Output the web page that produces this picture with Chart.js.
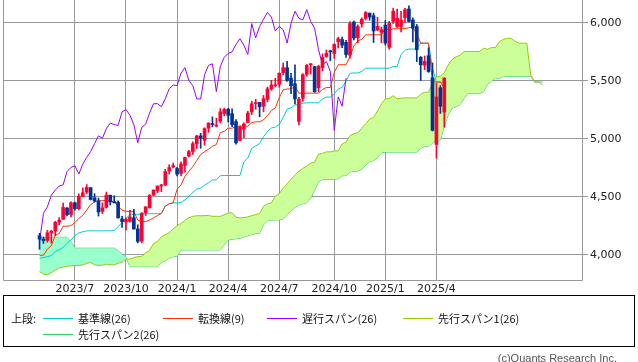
<!DOCTYPE html>
<html>
<head>
<meta charset="utf-8">
<script src="https://cdn.jsdelivr.net/npm/chart.js@4"></script>
<style>
  html, body { margin: 0; padding: 0; background: #fff; overflow: hidden; }
  #wrap { position: relative; width: 638px; height: 362px; }
  #chart { position: absolute; left: 0; top: 0; }
  #legend { position: absolute; left: 3px; top: 295px; width: 630px; height: 50px; border: 1px solid #000; }
  .lg { position: absolute; font: 11px "Noto Sans CJK JP", sans-serif; color: #111; line-height: 14px; white-space: nowrap; }
  .ln { position: absolute; width: 30px; height: 1px; }
  #copy { position: absolute; right: 21px; top: 351px; font: 11px "Liberation Sans", sans-serif; color: #555; line-height: 14px; }
</style>
</head>
<body>
<div id="wrap">
  <canvas id="chart" width="638" height="300"></canvas>
  <div id="legend"></div>
  <div id="copy">(c)Quants Research Inc.</div>
</div>
<script>
// weekly candles, index 0 = week of 2023/5/1
const opens = [4166,4136,4126,4190,4205,4282,4308,4405,4349,4450,
  4399,4505,4543,4579,4492,4465,4376,4411,4515,4460,
  4453,4310,4284,4289,4321,4224,4120,4365,4406,4515,
  4555,4594,4604,4725,4759,4745,4703,4772,4853,4892,
  4957,5026,4989,5093,5130,5111,5154,5219,5257,5218,
  5149,4988,5084,5142,5233,5305,5315,5283,5341,5431,
  5459,5471,5572,5614,5525,5476,5151,5350,5557,5639,
  5623,5442,5615,5711,5757,5737,5838,5857,5833,5723,
  6008,5874,5992,6040,6084,6063,5940,5920,5982,5790,
  6014,5969,5969,6046,6121,6026,5969,5705,5636,5718,
  5527,4953,5441,5232];
const highs = [4186,4154,4212,4212,4290,4322,4448,4409,4458,4456,
  4527,4578,4607,4584,4528,4490,4449,4542,4516,4511,
  4466,4334,4319,4385,4393,4260,4366,4415,4521,4562,
  4595,4610,4738,4778,4793,4755,4802,4843,4903,4975,
  5030,5048,5097,5140,5190,5180,5262,5265,5265,5260,
  5168,5114,5139,5239,5325,5342,5315,5375,5447,5505,
  5523,5570,5655,5670,5566,5639,5358,5563,5643,5651,
  5626,5636,5733,5767,5765,5822,5878,5878,5850,6012,
  6017,5985,6044,6099,6087,6085,6049,5965,6021,6014,
  6128,6120,6101,6127,6147,6044,5987,5710,5715,5786,
  5655,5481,5460,5528];
const lows = [4048,4099,4110,4103,4166,4260,4307,4337,4328,4385,
  4389,4502,4527,4474,4457,4335,4356,4404,4430,4448,
  4316,4238,4216,4283,4223,4104,4104,4340,4404,4513,
  4537,4546,4597,4697,4751,4682,4682,4714,4845,4866,
  4918,4920,4946,5057,5104,5104,5138,5200,5146,5107,
  4954,4984,5012,5142,5211,5256,5191,5234,5320,5420,
  5447,5446,5554,5497,5390,5302,5120,5325,5540,5560,
  5402,5406,5587,5703,5674,5696,5784,5787,5702,5696,
  5853,5830,5963,6027,6024,5832,5933,5829,5809,5773,
  5995,5962,5923,6004,6009,5837,5667,5504,5597,5574,
  5069,4835,5220,5101];
const closes = [4136,4124,4191,4205,4282,4299,4410,4348,4450,4399,
  4505,4536,4582,4478,4464,4370,4406,4516,4457,4450,
  4320,4288,4308,4327,4224,4117,4358,4415,4514,4559,
  4594,4604,4719,4754,4770,4697,4783,4840,4891,4959,
  5027,5006,5089,5137,5124,5117,5234,5254,5204,5123,
  4967,5100,5128,5223,5303,5305,5278,5347,5432,5465,
  5460,5567,5615,5505,5459,5346,5344,5554,5634,5648,
  5408,5626,5703,5738,5751,5815,5864,5808,5728,5995,
  5870,5969,6032,6090,6051,5931,5971,5942,5827,5997,
  6101,6040,6026,6115,6013,5955,5770,5639,5668,5581,
  5074,5363,5282,5525];

// 転換線(9)
const tenkan = [3997,3997,4050,4080,4169,4185,4248,4248,4253,4279,
  4315,4341,4387,4434,4457,4468,4468,4471,4471,4455,
  4420,4385,4376,4376,4376,4300,4285,4288,4300,4320,
  4340,4357,4421,4441,4449,4567,4603,4678,4720,4761,
  4814,4865,4890,4911,4936,4952,5054,5066,5092,5093,
  5106,5110,5110,5110,5140,5148,5148,5165,5201,5245,
  5268,5356,5423,5431,5431,5452,5395,5395,5395,5395,
  5395,5395,5427,5444,5444,5574,5640,5640,5640,5709,
  5802,5846,5859,5898,5898,5898,5898,5898,5954,5936,
  5951,5951,5951,5951,5960,5960,5907,5826,5826,5826,
  5494,5491,5491,5440];
// 基準線(26)
const kijun = [3972,3978,3985,3995,4030,4045,4065,4100,4128,4168,
  4190,4200,4208,4208,4208,4208,4208,4208,4208,4210,
  4245,4280,4318,4345,4350,4350,4353,4355,4355,4356,
  4356,4357,4421,4441,4449,4449,4453,4474,4504,4540,
  4567,4576,4601,4622,4647,4647,4683,4685,4685,4685,
  4685,4685,4803,4835,4919,4940,4960,5020,5065,5094,
  5103,5126,5185,5258,5268,5294,5295,5308,5312,5312,
  5312,5312,5344,5361,5361,5388,5431,5445,5499,5566,
  5569,5569,5582,5610,5610,5610,5610,5610,5610,5610,
  5624,5624,5727,5765,5775,5775,5777,5826,5826,5826,
  5608,5491,5491,5491];
// 遅行スパン(26), plotted from week 0
const chikou = [4117,4358,4415,4514,4559,4594,4604,4719,4754,4770,
  4697,4783,4840,4891,4959,5027,5006,5089,5137,5124,
  5117,5234,5254,5204,5123,4967,5100,5128,5223,5303,
  5305,5278,5347,5432,5465,5460,5567,5615,5505,5459,
  5346,5344,5554,5634,5648,5408,5626,5703,5738,5751,
  5815,5864,5808,5728,5995,5870,5969,6032,6090,6051,
  5931,5971,5942,5827,5997,6101,6040,6026,6115,6013,
  5955,5770,5639,5668,5581,5074,5363,5282,5525];
// 先行スパン1(26), plotted from week 0 to week 128
const spanA = [3856,3835,3830,3845,3870,3888,3895,3903,3906,3908,
  3910,3914,3928,3935,3914,3910,3912,3920,3916,3914,
  3928,3937,3965,3963,3978,3985,3988,4018,4038,4100,
  4115,4157,4174,4191,4224,4253,4271,4298,4321,4333,
  4338,4338,4340,4340,4333,4333,4333,4347,4361,4363,
  4325,4319,4322,4328,4338,4348,4357,4421,4441,4449,
  4508,4528,4576,4612,4651,4691,4721,4746,4767,4792,
  4800,4869,4876,4889,4889,4896,4898,4957,4973,5030,
  5044,5054,5093,5133,5170,5186,5241,5304,5345,5350,
  5373,5345,5352,5354,5354,5354,5354,5386,5403,5403,
  5481,5536,5543,5570,5638,5686,5708,5721,5754,5754,
  5754,5754,5754,5782,5773,5788,5788,5839,5858,5868,
  5868,5842,5826,5826,5826,5551,5491,5491,5466];
// 先行スパン2(26)
const spanB = [4152,4152,4152,4152,4152,4152,4152,4152,4115,4058,
  4058,4058,4058,4058,4058,4058,4058,4058,4058,4058,
  4035,4005,3980,3899,3899,3899,3899,3899,3899,3899,
  3899,3935,3950,3970,3985,3990,4043,4043,4043,4043,
  4043,4043,4043,4043,4043,4043,4043,4086,4129,4135,
  4140,4144,4155,4165,4175,4185,4187,4260,4295,4300,
  4302,4302,4310,4345,4380,4410,4430,4440,4450,4490,
  4560,4630,4650,4652,4652,4652,4657,4682,4684,4714,
  4723,4723,4740,4776,4805,4814,4837,4880,4887,4887,
  4887,4887,4887,4887,4887,4887,4887,4919,4936,4936,
  4963,4991,4991,5109,5208,5265,5277,5295,5348,5391,
  5391,5391,5391,5407,5472,5497,5523,5524,5537,5540,
  5540,5540,5540,5540,5540,5540,5491,5491,5491];

const quarterWeeks = [9, 22, 35, 48, 61, 75, 88, 101];
const quarterLabels = ['2023/7', '2023/10', '2024/1', '2024/4', '2024/7', '2024/10', '2025/1', '2025/4'];
const yTicks = [4000, 4500, 5000, 5500, 6000];

const UP = '#ff0033';
const DOWN = '#003399';

function pts(arr) {
  return arr.map((v, i) => ({ x: i, y: v }));
}

function candleColor(ctx) {
  const i = ctx.dataIndex;
  return closes[i] >= opens[i] ? UP : DOWN;
}

const framePlugin = {
  id: 'frame',
  afterDraw(chart) {
    const a = chart.chartArea;
    const c = chart.ctx;
    c.save();
    c.strokeStyle = '#999';
    c.lineWidth = 1;
    c.beginPath();
    const l = Math.round(a.left) + 0.5, r = Math.round(a.right) - 0.5, b = Math.round(a.bottom) + 0.5;
    c.moveTo(l, 0); c.lineTo(l, b);
    c.lineTo(r, b); c.lineTo(r, 0);
    c.stroke();
    c.restore();
  }
};

const lineBase = { type: 'line', borderWidth: 1, pointRadius: 0, tension: 0, fill: false, order: 2 };

new Chart(document.getElementById('chart'), {
  type: 'bar',
  data: {
    datasets: [
      {
        label: 'body',
        data: opens.map((o, i) => ({ x: i, y: [o, closes[i]] })),
        backgroundColor: candleColor,
        barThickness: 3,
        minBarLength: 1,
        grouped: false,
        order: 0
      },
      {
        label: 'wick',
        data: lows.map((l, i) => ({ x: i, y: [l, highs[i]] })),
        backgroundColor: candleColor,
        barThickness: 1,
        grouped: false,
        order: 1
      },
      Object.assign({}, lineBase, { label: '転換線(9)', data: pts(tenkan), borderColor: '#ff3300' }),
      Object.assign({}, lineBase, { label: '基準線(26)', data: pts(kijun), borderColor: '#00cccc', order: 3 }),
      Object.assign({}, lineBase, { label: '遅行スパン(26)', data: pts(chikou), borderColor: '#9900ff' }),
      Object.assign({}, lineBase, {
        label: '先行スパン1(26)', data: pts(spanA), borderColor: '#99cc00', order: 4,
        fill: { target: '+1', above: '#ccff99', below: '#99ffcc' }
      }),
      Object.assign({}, lineBase, { label: '先行スパン2(26)', data: pts(spanB), borderColor: '#33cc66', order: 4 })
    ]
  },
  options: {
    responsive: false,
    animation: false,
    events: [],
    layout: { padding: { left: 3, top: 0, right: 0, bottom: 0 } },
    plugins: { legend: { display: false }, tooltip: { enabled: false } },
    scales: {
      x: {
        type: 'linear',
        min: -9.3,
        max: 138.3,
        offset: false,
        grid: { color: '#999', offset: false, drawTicks: false },
        border: { display: false },
        ticks: {
          autoSkip: false, maxRotation: 0, padding: 3, color: '#222',
          font: { family: 'DejaVu Sans', size: 11 },
          callback: (v, i) => quarterLabels[i]
        },
        afterBuildTicks: s => { s.ticks = quarterWeeks.map(v => ({ value: v })); },
        afterFit: s => { s.height = 20; s.paddingLeft = 0; s.paddingRight = 0; }
      },
      y: {
        type: 'linear',
        position: 'right',
        min: 3784,
        max: 6198,
        grid: { color: '#999', tickLength: 5 },
        border: { display: false },
        ticks: {
          padding: 2, color: '#222',
          font: { family: 'DejaVu Sans', size: 11 },
          callback: v => v.toLocaleString('en-US')
        },
        afterBuildTicks: s => { s.ticks = yTicks.map(v => ({ value: v })); },
        afterFit: s => { s.width = 55; s.paddingTop = 0; s.paddingBottom = 0; }
      }
    }
  },
  plugins: [framePlugin]
});

// legend box
const legendItems = [
  { text: '基準線(26)', color: '#00cccc', x: 43, y: 318 },
  { text: '転換線(9)', color: '#ff3300', x: 163, y: 318 },
  { text: '遅行スパン(26)', color: '#9900ff', x: 267, y: 318 },
  { text: '先行スパン1(26)', color: '#99cc00', x: 403, y: 318 },
  { text: '先行スパン2(26)', color: '#33cc66', x: 43, y: 334 }
];
const wrap = document.getElementById('wrap');
function addText(txt, x, y) {
  const s = document.createElement('span');
  s.className = 'lg';
  s.textContent = txt;
  s.style.left = x + 'px';
  s.style.top = (y - 7) + 'px';
  wrap.appendChild(s);
}
addText('上段:', 11, 318);
legendItems.forEach(it => {
  const l = document.createElement('div');
  l.className = 'ln';
  l.style.left = it.x + 'px';
  l.style.top = it.y + 'px';
  l.style.background = it.color;
  wrap.appendChild(l);
  addText(it.text, it.x + 35, it.y);
});
</script>
</body>
</html>
